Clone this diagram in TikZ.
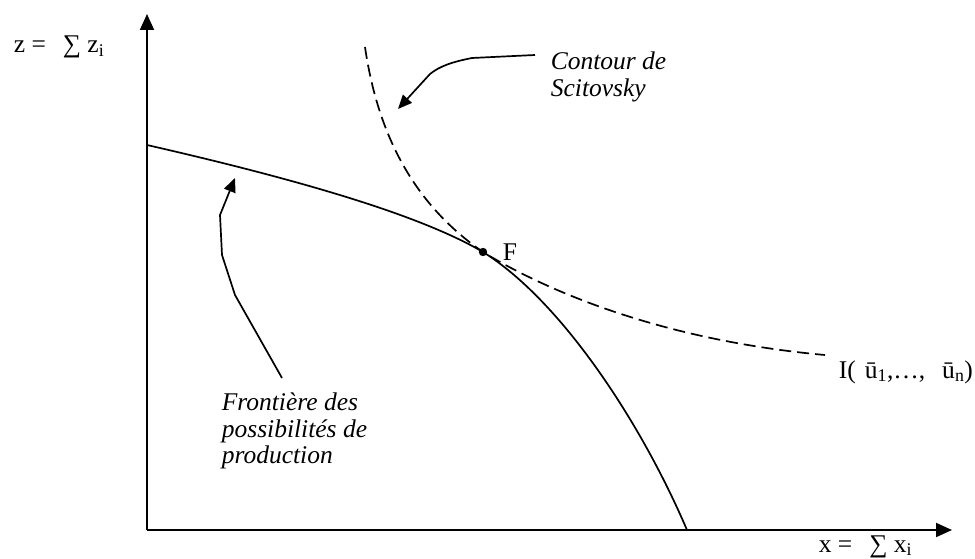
\documentclass[tikz,border=0pt]{standalone}
\usepackage{fontspec}
\setmainfont{Liberation Serif}
\usetikzlibrary{arrows.meta, positioning, calc}
\tikzset{
  every picture/.style={x=1pt, y=-1pt, line width=1.7pt},
  axis/.style={-{Triangle[length=16pt, width=14pt]}, line width=1.9pt},
  pointer/.style={-{Triangle[length=14pt, width=12pt]}, line width=1.7pt},
  axlabel/.style={font=\fontsize{25.5}{28}\selectfont, inner sep=0pt, anchor=base west},
  note/.style={font=\fontsize{25.5}{26.5}\selectfont\itshape, align=left, anchor=north west, inner sep=0pt},
  scitocurve/.style={dash pattern=on 12pt off 6pt},
}
\begin{document}
\begin{tikzpicture}
  \useasboundingbox (0,0) rectangle (975,559);
  % axes
  \coordinate (O) at (147,530);
  \coordinate (ztop) at (147,14);
  \coordinate (xend) at (952,530);
  \draw[axis] (O) -- (ztop);
  \draw[axis] (O) -- (xend);
  \node[axlabel] (zlab) at (13,53) {z =\hspace{17pt}∑ z\textsubscript{i}};
  \node[axlabel] (xlab) at (818,552) {x =\hspace{17pt}∑ x\textsubscript{i}};
  % frontier and Scitovsky contour
  \coordinate (F) at (483,252);
  \draw (147,145) .. controls (300,180) and (420,215) .. (F)
        .. controls (560,300) and (640,420) .. (687,530);
  \draw[scitocurve] (365,47) .. controls (380,150) and (425,212) .. (F)
        .. controls (545,290) and (660,340) .. (825,355);
  \fill (F) circle (4.2pt);
  \node[axlabel] (flab) at (502,260) {F};
  \node[axlabel] (ilab) at (838,378) {I(\hspace{9pt}\=u\textsubscript{1},…,\hspace{17pt}\=u\textsubscript{n})};
  % labels with pointers
  \node[note] (scito) at (550,51) {Contour de\\Scitovsky};
  \node[note] (fpp) at (221,392) {Frontière des\\possibilités de\\production};
  \coordinate (sctip) at (398,109);
  \coordinate (fptip) at (235,178);
  \draw[pointer] ([xshift=-15pt, yshift=-4pt]scito.north west) -- (472,58)
        .. controls (452,62) and (440,66) .. (430,74) -- (sctip);
  \draw[pointer] ([xshift=61pt, yshift=14pt]fpp.north west) -- (235,295)
        -- (222,255) -- (220,215) -- (fptip);
\end{tikzpicture}
\end{document}
